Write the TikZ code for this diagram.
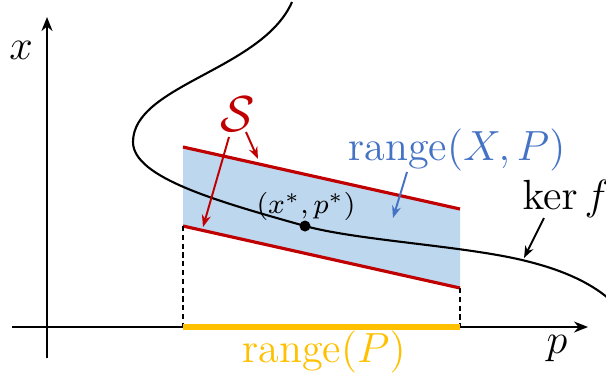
\documentclass[tikz,border=0pt]{standalone}
\usepackage{amsmath}
\usepackage{tikz}
\usepackage{xcolor}
\usetikzlibrary{arrows.meta,positioning,calc}
\definecolor{kfred}{HTML}{C00000}
\definecolor{kfblue}{HTML}{4472C4}
\definecolor{kfblued}{HTML}{BDD7EE}
\definecolor{kfamber}{HTML}{FFC000}
\newcommand{\lblsize}{\fontsize{12}{14}\selectfont}
\tikzset{
  axis/.style      = {-{Stealth[length=1.4mm,width=1.1mm]}, line width=0.6pt},
  kercurve/.style  = {line width=0.6pt},
  bandedge/.style  = {draw=kfred, line width=0.9pt},
  band/.style      = {fill=kfblued},
  guide/.style     = {dash pattern=on 1.5pt off 1pt, line width=0.3pt},
  rangebar/.style  = {draw=kfamber, line width=1.8pt},
  pointer/.style   = {-{Stealth[length=1.2mm,width=0.9mm]}, line width=0.55pt},
  dot/.style       = {circle, fill=black, minimum size=1.1mm, inner sep=0pt},
  lbl/.style       = {font=\lblsize, inner sep=1pt},
  small/.style     = {font=\fontsize{8}{9}\selectfont, inner sep=1pt},
}
\begin{document}
\begin{tikzpicture}[x=0.1mm, y=-0.1mm]
  \useasboundingbox (0,0) rectangle (606,377);

  % band corners
  \coordinate (tl) at (183,147);
  \coordinate (tr) at (460,209);
  \coordinate (bl) at (183,226);
  \coordinate (br) at (460,288);
  \coordinate (pl) at (183,327);
  \coordinate (pr) at (460,327);

  \fill[band] (tl) -- (tr) -- (br) -- (bl) -- cycle;
  \draw[bandedge] (tl) -- (tr);
  \draw[bandedge] (bl) -- (br);
  \draw[guide] (bl) -- (pl);
  \draw[guide] (br) -- (pr);

  % axes
  \coordinate (o)  at (12,327);
  \coordinate (pe) at (588,327);
  \coordinate (yb) at (47,358);
  \coordinate (ye) at (47,17);
  \draw[axis] (o) -- (pe);
  \draw[axis] (yb) -- (ye);
  \draw[rangebar] (pl) -- (pr);

  % ker f
  \draw[kercurve] (292,2) .. controls (262,70) and (133,85) .. (133,142)
    .. controls (133,178) and (220,202) .. (305,226)
    .. controls (360,241) and (470,246) .. (530,262)
    .. controls (565,271) and (590,283) .. (608,298);

  \node[dot] (star) at (305,226) {};
  \node[small] (starlbl) at (306,206) {$(x^*,p^*)$};

  \node[lbl] (xlbl) at (21,50) {$x$};
  \node[lbl] (plbl) at (557,349) {$p$};
  \node[lbl, text=kfamber] (rangeP) at (324,352) {range$(P)$};
  \node[lbl, text=kfblue] (rangeXP) at (457,150) {range$(X,P)$};
  \node[lbl] (kerf) at (566,199) {$\ker f$};
  \node[lbl, text=kfred, font=\fontsize{15}{17}\selectfont] (setlbl) at (238,114)
    {$\mathcal{S}$};

  % pointers
  \coordinate (tophit) at (258,159);
  \coordinate (bothit) at (203,227);
  \coordinate (bandhit) at (393,218);
  \coordinate (kerhit) at (524,258);

  \draw[pointer, kfred] ([xshift=0.8mm,yshift=-1.8mm]setlbl.center) -- (tophit);
  \draw[pointer, kfred] ([xshift=-0.9mm,yshift=-2.3mm]setlbl.center) -- (bothit);
  \draw[pointer, kfblue] ([xshift=-5mm,yshift=-2.2mm]rangeXP.center) -- (bandhit);
  \draw[pointer] ([xshift=-2.2mm,yshift=-1.9mm]kerf.center) -- (kerhit);

\end{tikzpicture}
\end{document}
